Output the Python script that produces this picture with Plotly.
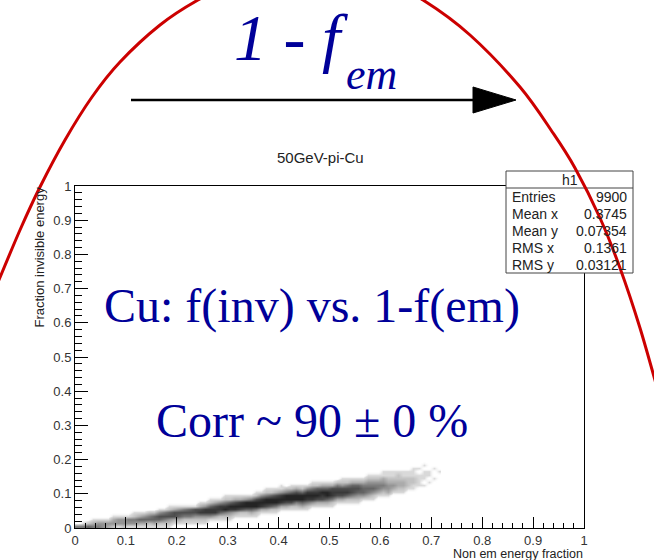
import plotly.graph_objects as go

# ---------------- data ----------------
# 2D density of the 9900-entry scatter.
# x bins: 0.01 wide starting at 0; y bins: 0.01 wide starting at 0.
# For every x bin: first filled y-bin index and the density digits (0-9) upward.
x_bin_width = 0.01
y_bin_width = 0.01
n_y_bins = 21
col_start = [0, 0, 0, 0, 0, 0, 0, 0, 0, 0,
             0, 0, 0, 0, 0, 0, 0, 0, 0, 1,
             1, 1, 1, 1, 1, 1, 2, 2, 2, 2,
             2, 3, 3, 3, 3, 3, 4, 4, 4, 4,
             5, 5, 5, 5, 5, 5, 6, 6, 6, 6,
             6, 7, 7, 7, 7, 7, 8, 8, 8, 9,
             9, 9, 10, 10, 10, 11, 11, 12, 12, 13,
             13, 14]
col_profile = ["5", "51", "62", "531", "541", "441", "341", "2431", "1441", "2441",
               "1451", "14521", "13631", "13641", "12652", "13662", "126741", "125751", "1247621", "137731",
               "136741", "125751", "125761", "124771", "1248731", "1248841", "1488621", "1388731", "1268841", "12598521",
               "12489621", "1389731", "1279831", "1269941", "1369951", "12599721", "1389841", "13799521", "12699621", "12599731",
               "13898411", "1379952", "12799621", "12599731", "13699621", "12589841", "14898521", "13798621", "13789631", "13699631",
               "12588731", "1378752", "13787421", "12687521", "12577631", "12467631", "1466531", "13565421", "12465421", "1355421",
               "12454311", "13443211", "1343211", "1233221", "1233211", "122211", "1122111", "111101", "1011101", "1011",
               "01001", "001"]

title_text = "50GeV-pi-Cu"
x_title = "Non em energy fraction"
y_title = "Fraction invisible energy"
tick_vals = [0, 0.1, 0.2, 0.3, 0.4, 0.5, 0.6, 0.7, 0.8, 0.9, 1]
tick_text = ["0", "0.1", "0.2", "0.3", "0.4", "0.5", "0.6", "0.7", "0.8", "0.9", "1"]

stat_name = "h1"
stat_labels = ["Entries", "Mean x", "Mean y", "RMS x", "RMS y"]
stat_values = ["9900", "0.3745", "0.07354", "0.1361", "0.03121"]

text_main = "Cu: f(inv) vs. 1-f(em)"
text_corr = "Corr ~ 90 \u00b1 0 %"
text_arrow_main = "<i>1 - f</i>"
text_arrow_sub = "<i>em</i>"

# decorative hand-drawn red arc (page pixel positions)
arc_px = [-4, 20, 40, 65, 92, 120, 160, 198, 250, 310, 370, 423, 470, 520, 553, 575, 600, 620, 640, 658]
arc_py = [287, 230, 187, 140, 97, 62, 25, 0, -26, -40, -28, 0, 35, 87, 133, 168, 218, 268, 328, 391]

# ---------------- build ----------------
W, H = 654, 560
def PX(p):
    return p / W
def PY(p):
    return 1 - p / H

n_cols = len(col_profile)
z = [[0] * n_cols for _ in range(n_y_bins)]
for i, (s, prof) in enumerate(zip(col_start, col_profile)):
    for k, ch in enumerate(prof):
        z[s + k][i] = int(ch)
xc = [(i + 0.5) * x_bin_width for i in range(n_cols)]
yc = [(j + 0.5) * y_bin_width for j in range(n_y_bins)]

cscale = [
    [0.0, "rgba(255,255,255,0)"],
    [1 / 9, "rgba(0,0,0,0.15)"],
    [3 / 9, "rgba(0,0,0,0.33)"],
    [5 / 9, "rgba(0,0,0,0.52)"],
    [7 / 9, "rgba(0,0,0,0.70)"],
    [1.0, "rgba(0,0,0,0.86)"],
]

fig = go.Figure()
fig.add_trace(go.Heatmap(x=xc, y=yc, z=z, zmin=0, zmax=9, colorscale=cscale,
                         showscale=False, zsmooth="best", hoverinfo="skip"))

font_sans = "Liberation Sans, Arial, sans-serif"
font_serif = "Liberation Serif, Times New Roman, serif"

axis_common = dict(range=[0, 1], showline=True, mirror=True, linecolor="black", linewidth=1,
                   ticks="inside", tickcolor="black", tickwidth=1,
                   tickvals=tick_vals, ticktext=tick_text,
                   showgrid=False, zeroline=False, fixedrange=True,
                   tickfont=dict(family=font_sans, size=13, color="#333333"))

fig.update_layout(
    width=W, height=H, margin=dict(l=0, r=0, t=0, b=0, pad=0, autoexpand=False),
    paper_bgcolor="white", plot_bgcolor="white", showlegend=False,
    xaxis=dict(domain=[PX(75), PX(584)], ticklen=11,
               minor=dict(ticks="inside", ticklen=5, dtick=0.02, tick0=0, tickcolor="black", showgrid=False),
               **axis_common),
    yaxis=dict(domain=[PY(528), PY(186)], ticklen=13,
               minor=dict(ticks="inside", ticklen=7, dtick=0.02, tick0=0, tickcolor="black", showgrid=False),
               **axis_common),
)

shapes = []
# stats box
shapes.append(dict(type="rect", xref="paper", yref="paper", x0=PX(506), x1=PX(633), y0=PY(273), y1=PY(171),
                   line=dict(color="#444444", width=1), fillcolor="white", layer="above"))
shapes.append(dict(type="line", xref="paper", yref="paper", x0=PX(506), x1=PX(633), y0=PY(188), y1=PY(188),
                   line=dict(color="#444444", width=1), layer="above"))
# arrow
shapes.append(dict(type="line", xref="paper", yref="paper", x0=PX(131), x1=PX(480), y0=PY(100), y1=PY(100),
                   line=dict(color="black", width=2.5), layer="above"))
shapes.append(dict(type="path", xref="paper", yref="paper",
                   path="M %f,%f L %f,%f L %f,%f Z" % (PX(473), PY(87), PX(516), PY(100), PX(473), PY(113)),
                   fillcolor="black", line=dict(color="black", width=1), layer="above"))

# smooth red arc (Catmull-Rom -> cubic Bezier)
pts = [(PX(a), PY(b)) for a, b in zip(arc_px, arc_py)]
path = "M %f,%f" % pts[0]
for k in range(len(pts) - 1):
    p0 = pts[k - 1] if k > 0 else pts[k]
    p1 = pts[k]
    p2 = pts[k + 1]
    p3 = pts[k + 2] if k + 2 < len(pts) else pts[k + 1]
    c1 = (p1[0] + (p2[0] - p0[0]) / 6, p1[1] + (p2[1] - p0[1]) / 6)
    c2 = (p2[0] - (p3[0] - p1[0]) / 6, p2[1] - (p3[1] - p1[1]) / 6)
    path += " C %f,%f %f,%f %f,%f" % (c1[0], c1[1], c2[0], c2[1], p2[0], p2[1])
shapes.append(dict(type="path", xref="paper", yref="paper", path=path,
                   line=dict(color="#cc0000", width=3), layer="above"))
fig.update_layout(shapes=shapes)

ann = []
def add_text(text, x, y, size, color="#222222", family=font_sans, xanchor="center", yanchor="middle", angle=0):
    ann.append(dict(text=text, x=PX(x), y=PY(y), xref="paper", yref="paper", showarrow=False,
                    font=dict(family=family, size=size, color=color), xanchor=xanchor, yanchor=yanchor,
                    textangle=angle, borderpad=0))

add_text(title_text, 320, 157, 15)
add_text(stat_name, 570, 180, 14)
row_y = [197, 214, 231, 248, 265]
for lab, val, ry in zip(stat_labels, stat_values, row_y):
    add_text(lab, 511, ry, 14, xanchor="left")
    add_text(val, 628, ry, 14, xanchor="right")
add_text(x_title, 584, 554, 12.5, xanchor="right")
add_text(y_title, 39, 186, 13, yanchor="top", angle=-90)
add_text(text_main, 312, 306, 48, color="#000099", family=font_serif)
add_text(text_corr, 312, 420, 48, color="#000099", family=font_serif)
add_text(text_arrow_main, 349, 38, 66, color="#000099", family=font_serif, xanchor="right")
add_text(text_arrow_sub, 345, 75, 44, color="#000099", family=font_serif, xanchor="left")
fig.update_layout(annotations=ann)

fig.write_html("out.html",
               config={"displayModeBar": False, "staticPlot": True},
               post_script="document.body.style.margin='0px';document.body.style.overflow='hidden';")
